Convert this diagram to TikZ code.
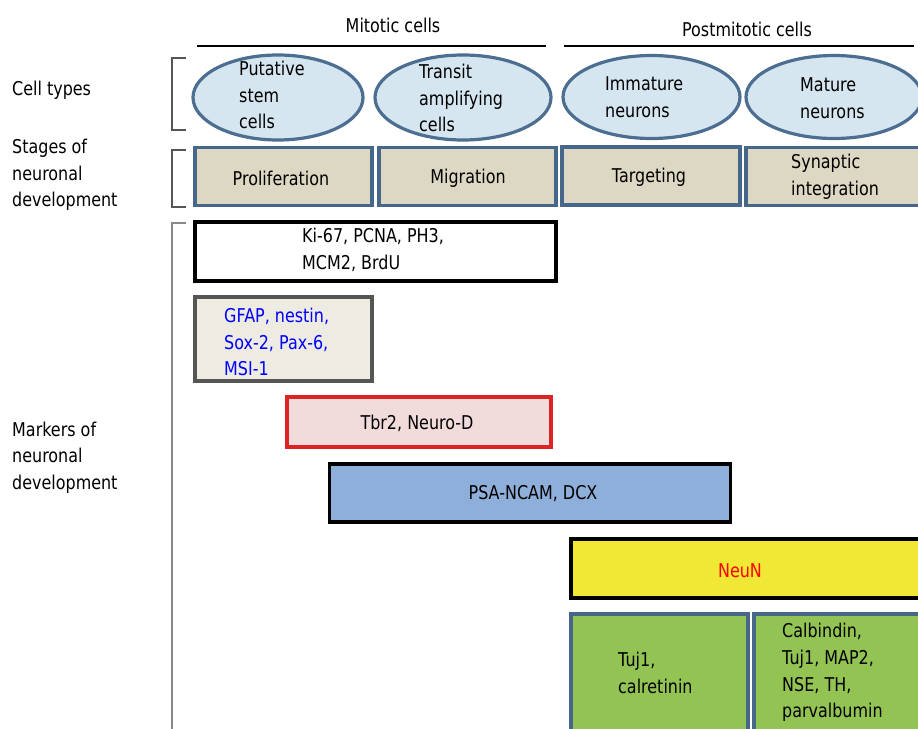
\documentclass[tikz,border=0pt]{standalone}
\usepackage{fontspec}
\setmainfont[FakeStretch=0.84]{DejaVu Sans}
\usetikzlibrary{shapes.geometric}
\definecolor{cellfill}{HTML}{D6E6F0}
\definecolor{cellline}{HTML}{4C6E90}
\definecolor{stagefill}{HTML}{DDD8C3}
\definecolor{stageline}{HTML}{46678A}
\definecolor{gfapfill}{HTML}{EEEBE2}
\definecolor{gfapline}{HTML}{555555}
\definecolor{tbrfill}{HTML}{F2DCDB}
\definecolor{tbrline}{HTML}{DD2424}
\definecolor{psafill}{HTML}{8DAFDA}
\definecolor{neunfill}{HTML}{F0E834}
\definecolor{greenfill}{HTML}{92C353}
\definecolor{bracketcol}{HTML}{555555}
\definecolor{markbracket}{HTML}{888888}
\definecolor{bluetext}{HTML}{0000FF}
\definecolor{redtext}{HTML}{FF0000}
\newcommand\txtfont{\fontsize{19}{26.6}\selectfont}
\begin{document}
\begin{tikzpicture}[x=1pt,y=-1pt,
  every node/.style={inner sep=0pt, font=\txtfont, align=left, text=black},
  cell/.style={ellipse, draw=cellline, fill=cellfill, line width=3.2pt},
  stagebox/.style={rectangle, draw=stageline, fill=stagefill, line width=3.2pt},
  blackbox/.style={rectangle, draw=black, line width=3.2pt},
  greenbox/.style={rectangle, draw=stageline, fill=greenfill, line width=3.2pt},
  bracketline/.style={draw=bracketcol, line width=1.4pt},
  headline/.style={draw=black, line width=1.3pt}]
\path[use as bounding box] (0,0) rectangle (918,728);
\clip (0,0) rectangle (918,728);
\fill[white] (0,0) rectangle (918,728);

% headers
\node (hm) at (393,25) {Mitotic cells};
\node (hp) at (747,29) {Postmitotic cells};
\draw[headline] (197,46) -- (546,46);
\draw[headline] (564,46) -- (914,46);

% left labels
\node[anchor=west] (lct) at (12,90) {Cell types};
\node[anchor=west] (lst) at (12,175) {Stages of\\neuronal\\development};
\node[anchor=west] (lmk) at (12,457.5) {Markers of\\neuronal\\development};

% brackets
\draw[bracketline] (186,58) -- (172,58) -- (172,130) -- (186,130);
\draw[bracketline] (186,150) -- (172,150) -- (172,207) -- (186,207);
\draw[draw=markbracket, line width=1.6pt] (186,223) -- (172,223) -- (172,740);

% cell types
\node[cell, minimum width=170, minimum height=85] (e1) at (278,97.5) {};
\node[cell, minimum width=176, minimum height=85] (e2) at (463,97.5) {};
\node[cell, minimum width=177, minimum height=83] (e3) at (651.5,97) {};
\node[cell, minimum width=176, minimum height=83] (e4) at (834,97) {};
\node[anchor=west] (t1) at (239,95) {Putative\\stem\\cells};
\node[anchor=west] (t2) at (419,98) {Transit\\amplifying\\cells};
\node[anchor=west] (t3) at (605,97) {Immature\\neurons};
\node[anchor=west] (t4) at (800,98) {Mature\\neurons};

% stages
\node[stagebox, minimum width=177, minimum height=58] (s1) at (283.5,176.5) {};
\node (p1) at (281,178) {Proliferation};
\node[stagebox, minimum width=177, minimum height=58] (s2) at (467.5,176.5) {};
\node (p2) at (468,178) {Migration};
\node[stagebox, minimum width=178, minimum height=58] (s3) at (651,176) {};
\node (p3) at (649,177) {Targeting};
\node[stagebox, minimum width=179, minimum height=58] (s4) at (835.5,176.5) {};
\node[anchor=west] (t5) at (791,177) {Synaptic\\integration};

% markers
\node[blackbox, fill=white, minimum width=361, minimum height=59] (m1) at (375.5,251.5) {};
\node[anchor=west] (k1) at (302,250) {Ki-67, PCNA, PH3,\\MCM2, BrdU};
\node[rectangle, draw=gfapline, fill=gfapfill, line width=3.2pt, minimum width=177, minimum height=84] (m2) at (283.5,339) {};
\node[anchor=west, text=bluetext] (k2) at (224,342) {GFAP, nestin,\\Sox-2, Pax-6,\\MSI-1};
\node[rectangle, draw=tbrline, fill=tbrfill, line width=3.2pt, minimum width=264, minimum height=50] (m3) at (419,422) {};
\node (k3) at (417,423) {Tbr2, Neuro-D};
\node[blackbox, fill=psafill, minimum width=401, minimum height=58] (m4) at (530,493) {};
\node (k4) at (533,494) {PSA-NCAM, DCX};
\node[blackbox, fill=neunfill, minimum width=359, minimum height=59] (m5) at (750.5,568.5) {};
\node[text=redtext] (k5) at (740,571) {NeuN};
\node[greenbox, minimum width=177, minimum height=146] (m6) at (659.5,687) {};
\node[anchor=west] (k6) at (618,673) {Tuj1,\\calretinin};
\node[greenbox, minimum width=176, minimum height=146] (m7) at (842,687) {};
\node[anchor=west] (k7) at (782,672.5) {Calbindin,\\Tuj1, MAP2,\\NSE, TH,\\parvalbumin};
\end{tikzpicture}
\end{document}
